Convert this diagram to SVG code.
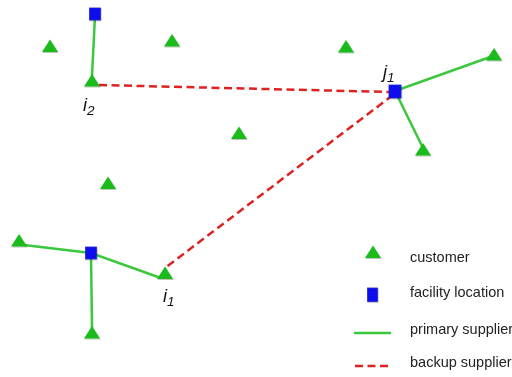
<svg xmlns="http://www.w3.org/2000/svg" width="512" height="377" viewBox="0 0 512 377">
<style>
.cust{fill:#1fbb1f}
.fac{fill:#1010ee;stroke:#2a2acc;stroke-width:0.8}
.prim{stroke:#3cc83c;stroke-width:2.5;fill:none;stroke-linecap:round}
.back{stroke:#dd2222;stroke-width:2.5;fill:none;stroke-dasharray:8 4.5}
.lbl{font-family:"Liberation Sans",Arial,sans-serif;font-style:italic;font-size:18px;fill:#111}
.sub{font-size:13.5px}
.leg{font-family:"Liberation Sans",Arial,sans-serif;font-size:14.5px;fill:#222}
</style>
<defs>
<path id="tri" d="M-8 6 L0 -6.5 L8 6 Z"/>
<filter id="sh" x="-30%" y="-30%" width="160%" height="160%"><feDropShadow dx="0.6" dy="0.8" stdDeviation="0.7" flood-color="#000" flood-opacity="0.3"/></filter>
</defs>
<rect width="512" height="377" fill="#fff"/>
<g id="connectors">
<line class="back" x1="99" y1="85" x2="390" y2="92"/>
<line class="back" x1="393" y1="95" x2="165" y2="268"/>
<line class="prim" x1="95" y1="16" x2="92" y2="76"/>
<line class="prim" x1="395" y1="91" x2="493" y2="56"/>
<line class="prim" x1="395" y1="91" x2="422" y2="146"/>
<line class="prim" x1="91" y1="253" x2="24" y2="245"/>
<line class="prim" x1="91" y1="253" x2="158" y2="277"/>
<line class="prim" x1="91" y1="253" x2="92" y2="328"/>
</g>
<g id="customers" class="cust" filter="url(#sh)">
<use id="c1" href="#tri" x="50" y="46"/>
<use id="c2" href="#tri" x="172" y="40.5"/>
<use id="i2" href="#tri" x="92" y="80.5"/>
<use id="c4" href="#tri" x="239" y="133"/>
<use id="c5" href="#tri" x="108" y="183"/>
<use id="c6" href="#tri" x="346" y="46.5"/>
<use id="c7" href="#tri" x="494" y="54.5"/>
<use id="c8" href="#tri" x="423" y="149.5"/>
<use id="c9" href="#tri" x="19" y="240.5"/>
<use id="i1" href="#tri" x="165" y="273"/>
<use id="c11" href="#tri" x="92" y="332.5"/>
</g>
<g id="facilities" filter="url(#sh)">
<rect id="f1" class="fac" x="89.5" y="8" width="11" height="12"/>
<rect id="j1" class="fac" x="389" y="85" width="12" height="13"/>
<rect id="f3" class="fac" x="85.5" y="247" width="11" height="12"/>
</g>
<g id="labels">
<text class="lbl" x="83" y="111">i<tspan class="sub" dy="4">2</tspan></text>
<text class="lbl" x="163" y="302">i<tspan class="sub" dy="4">1</tspan></text>
<text class="lbl" x="383" y="78">j<tspan class="sub" dy="4">1</tspan></text>
</g>
<g id="legend">
<use href="#tri" class="cust" x="373" y="252" filter="url(#sh)"/>
<rect class="fac" x="367.5" y="288" width="10" height="13.5" filter="url(#sh)"/>
<line class="prim" x1="355" y1="333" x2="390" y2="333" stroke-linecap="butt"/>
<line class="back" x1="355" y1="366" x2="390" y2="366" stroke-dasharray="8 5"/>
<text class="leg" x="410" y="262">customer</text>
<text class="leg" x="410" y="297">facility location</text>
<text class="leg" x="410" y="334">primary supplier</text>
<text class="leg" x="410" y="367">backup supplier</text>
</g>
</svg>
